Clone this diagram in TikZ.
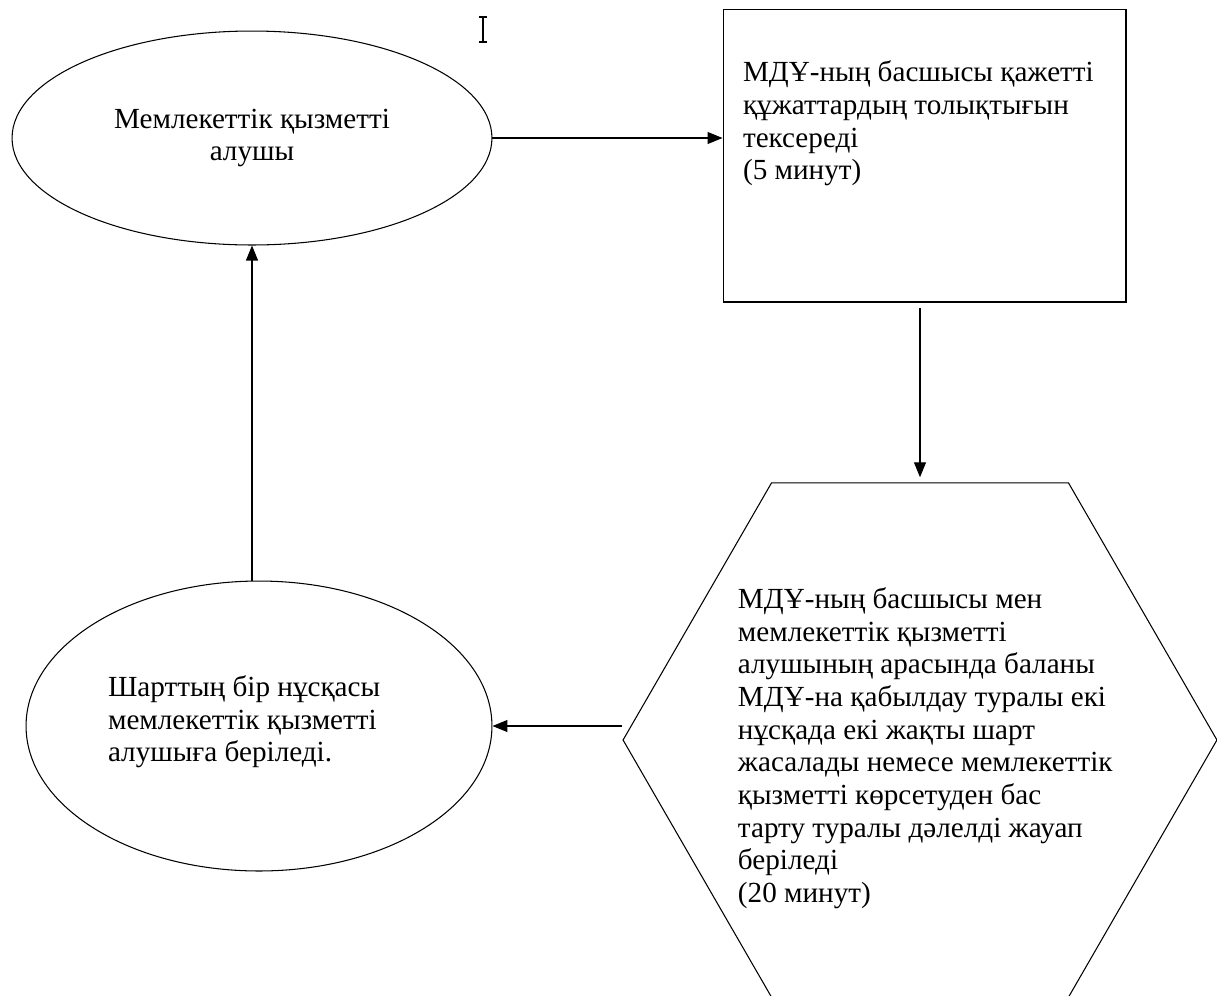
\documentclass[tikz,border=0pt]{standalone}
\usepackage{fontspec}
\setmainfont{Liberation Serif}
\usetikzlibrary{shapes.geometric,arrows.meta,positioning}
\begin{document}
\begin{tikzpicture}[x=0.02cm,y=-0.02cm,line width=0.6pt,
  every node/.style={inner sep=0pt},
  oval/.style={draw,ellipse},
  txt/.style={align=left,font=\fontsize{16.6}{18.6}\selectfont},
  arr/.style={-{Triangle[length=3mm,width=2.4mm]}}]
\useasboundingbox (0,0) rectangle (1217,995);
\node[oval,txt,align=center,minimum width=9.6cm,minimum height=4.28cm] (alu) at (252,138) {Мемлекеттік қызметті\\алушы};
\node[draw,minimum width=8.06cm,minimum height=5.86cm] (check) at (924.5,155.5) {};
\node[txt,anchor=north west] (checktext) at ([shift={(20,52)}]check.north west) {МДҰ-ның басшысы қажетті\\құжаттардың толықтығын\\тексереді\\(5 минут)};
\node[draw,regular polygon,regular polygon sides=6,minimum size=11.88cm] (hex) at (920,740) {};
\node[txt,anchor=north west] (hextext) at ([shift={(115,-153)}]hex.west) {МДҰ-ның басшысы мен\\мемлекеттік қызметті\\алушының арасында баланы\\МДҰ-на қабылдау туралы екі\\нұсқада екі жақты шарт\\жасалады немесе мемлекеттік\\қызметті көрсетуден бас\\тарту туралы дәлелді жауап\\беріледі\\(20 минут)};
\node[oval,minimum width=9.32cm,minimum height=5.8cm] (recv) at (259,726) {};
\node[txt,anchor=north west] (recvtext) at ([shift={(82,-51)}]recv.west) {Шарттың бір нұсқасы\\мемлекеттік қызметті\\алушыға беріледі.};
\draw[arr] (alu.east) -- (alu.east -| check.west);
\draw[arr,shorten <=0.1cm,shorten >=0.1cm] (check.south -| hex.north) -- (hex.north);
\draw[arr] (recv.east -| hex.west) -- (recv.east);
\draw[arr] (recv.north -| alu.south) -- (alu.south);
\draw[line width=0.8pt] (479,17) -- (487,17) (483,17) -- (483,42) (479,42) -- (487,42);
\end{tikzpicture}
\end{document}
